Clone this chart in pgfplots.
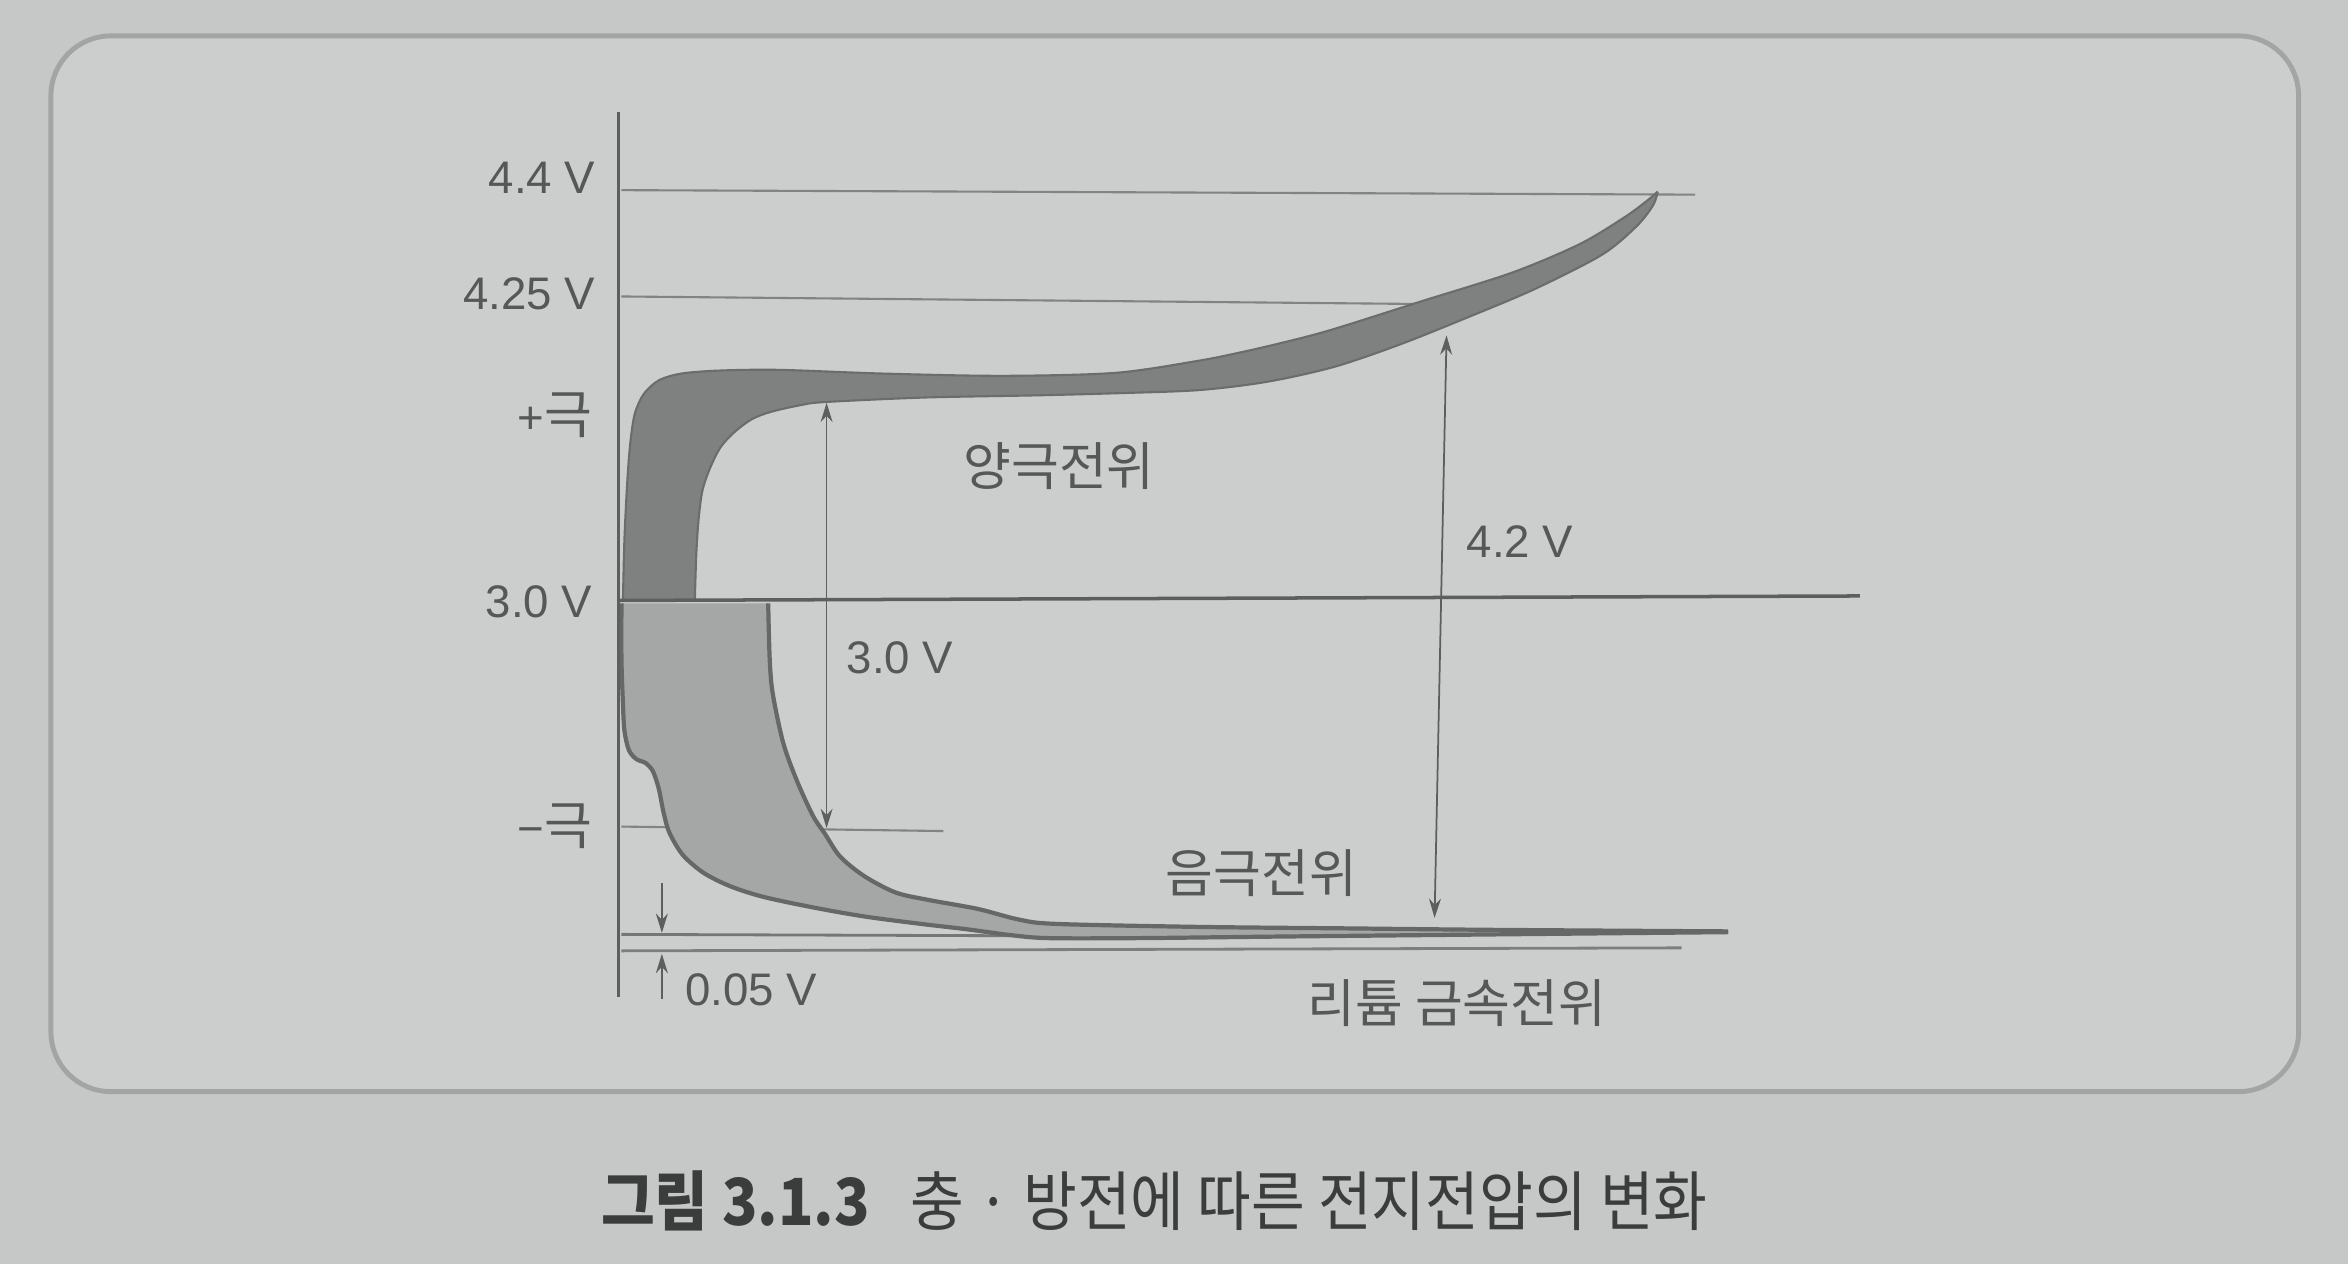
\documentclass[border=0pt]{standalone}
\usepackage{pgfplots}
\pgfplotsset{compat=1.18}
\usepackage{pgfplotstable}
\usepgfplotslibrary{fillbetween}
\usetikzlibrary{arrows.meta}
\usepackage{graphicx}
\usepackage{fontspec}
\setmainfont{Liberation Sans}
\newfontfamily\kr{Noto Sans CJK KR}

\definecolor{bgout}{HTML}{C5C8C7}
\definecolor{boxin}{HTML}{CBCECD}
\definecolor{boxline}{HTML}{A2A5A4}
\definecolor{bandP}{HTML}{7E8180}
\definecolor{bandPline}{HTML}{6A6D6C}
\definecolor{bandN}{HTML}{A4A7A6}
\definecolor{bandNline}{HTML}{656867}
\definecolor{thinl}{HTML}{818483}
\definecolor{darkl}{HTML}{5C5F5E}
\definecolor{txt}{HTML}{555857}
\definecolor{captxt}{HTML}{3A3D3C}

% positive electrode band (image coordinates, y downwards)
\pgfplotstableread{
x y
416 401
417 360
419 320
421 295
424 276
430 263
440 254
455 249.5
480 247.5
520 247
590 249.5
670 251
745 249
800 241
830 235
860 228
890 220
950 201
1010 182
1055 163
1085 145
1100 134
1107 128
}\posouter
\pgfplotstableread{
x y
464 401
465 370
466.5 347
469 328
474 313
481 299
490 289
502 280
515 275
535 270.5
551 268.5
617 265.5
694 264
750 262.5
801 260.5
846 255
891 245
935 230
980 212
1025 193
1070 170
1093 151
1104 137
1107 128
}\posinner
% negative electrode band
\pgfplotstableread{
x y
415 403
415 440
416 470
417 488
420 501
425 507
431 509.5
436 515
440 527
443 542
447 556
456 571
470 583
488 592
510 599
543 606
577 612
615 617
645 620.5
675 624.5
700 626.5
760 626.5
850 625.5
950 624.5
1050 623.5
1154 622.5
}\negouter
\pgfplotstableread{
x y
513 403
514 440
516 463
523 496
532 521
543 545
551 557
561 572
577 585
598 596
620 601
653 607
680 614
705 617
800 619
900 620
1000 621
1154 622
}\neginner
% closed outline of the negative band: outer edge, then inner edge backwards
\pgfplotstableread{
x y
415 403
415 440
416 470
417 488
420 501
425 507
431 509.5
436 515
440 527
443 542
447 556
456 571
470 583
488 592
510 599
543 606
577 612
615 617
645 620.5
675 624.5
700 626.5
760 626.5
850 625.5
950 624.5
1050 623.5
1154 622.5
1000 621
900 620
800 619
705 617
680 614
653 607
620 601
598 596
577 585
561 572
551 557
543 545
532 521
523 496
516 463
514 440
513 403
}\negband

\newcommand\lab{\fontsize{13pt}{14pt}\selectfont}
\newcommand\klab{\fontsize{14.8pt}{16pt}\selectfont\kr}
\tikzset{arr/.style={arrows={Stealth[length=5.5pt,width=3.4pt]-Stealth[length=5.5pt,width=3.4pt]}}}

\begin{document}
\begin{tikzpicture}
\begin{axis}[
  hide axis, scale only axis,
  width=23.52cm, height=12.66cm,
  xmin=0, xmax=1568, ymin=0, ymax=844,
  y dir=reverse, clip=false,
]
% background and frame
\addplot[draw=none, fill=bgout, forget plot] coordinates {(0,0) (1568,0) (1568,844) (0,844)} -- cycle;
\draw[draw=boxline, line width=1.4pt, fill=boxin, rounded corners=0.6cm] (axis cs:34,24) rectangle (axis cs:1535,729);

% reference lines
\addplot[thinl, line width=0.6pt] coordinates {(415,127) (1132,130)};
\addplot[thinl, line width=0.6pt] coordinates {(415,198) (945,203)};
\addplot[thinl, line width=0.6pt] coordinates {(415,552) (630,555)};
\addplot[darkl!85, line width=0.8pt] coordinates {(415,624) (700,625)};
\addplot[darkl!80, line width=0.8pt] coordinates {(415,635) (1123,633)};

% positive band
\addplot[name path=pA, draw=none, smooth] table {\posouter};
\addplot[name path=pB, draw=none, smooth] table {\posinner};
\addplot[fill=bandP, draw=none] fill between[of=pA and pB, on layer=main];
\addplot[bandPline, line width=0.6pt, smooth] table {\posouter};
\addplot[bandPline, line width=0.6pt, smooth] table {\posinner};

% negative band
\addplot[fill=bandN, draw=none, smooth] table {\negband} -- cycle;
\addplot[bandNline, line width=1.2pt, smooth] table {\negouter};
\addplot[bandNline, line width=1.2pt, smooth] table {\neginner};

% 3.0 V line and y axis
\addplot[darkl, line width=1.0pt] coordinates {(414,401) (1242,398)};
\addplot[darkl, line width=0.9pt] coordinates {(413,75) (413,666)};

% arrows
\addplot[darkl, line width=0.5pt, arr] coordinates {(552,269) (552,553)};
\addplot[darkl, line width=0.5pt, arr] coordinates {(966,224) (958,613)};
\addplot[darkl, line width=0.5pt, -{Stealth[length=5.5pt,width=3.4pt]}] coordinates {(442,590) (442,623)};
\addplot[darkl, line width=0.5pt, -{Stealth[length=5.5pt,width=3.4pt]}] coordinates {(442,667) (442,637)};

% labels
\node[anchor=east, inner sep=0, text=txt] at (axis cs:398,119) {\lab 4.4 V};
\node[anchor=east, inner sep=0, text=txt] at (axis cs:398,196) {\lab 4.25 V};
\node[anchor=east, inner sep=0, text=txt] at (axis cs:396,277) {\lab +{\klab 극}};
\node[anchor=east, inner sep=0, text=txt] at (axis cs:396,402) {\lab 3.0 V};
\node[anchor=east, inner sep=0, text=txt] at (axis cs:396,552) {\lab −{\klab 극}};
\node[anchor=west, inner sep=0, text=txt] at (axis cs:565,439) {\lab 3.0 V};
\node[anchor=west, inner sep=0, text=txt] at (axis cs:979,362) {\lab 4.2 V};
\node[anchor=west, inner sep=0, text=txt] at (axis cs:457,661) {\lab 0.05 V};
\node[anchor=west, inner sep=0, text=txt] at (axis cs:643,311) {\klab 양극전위};
\node[anchor=west, inner sep=0, text=txt] at (axis cs:778,583) {\klab 음극전위};
\node[anchor=west, inner sep=0, text=txt] at (axis cs:873,670) {\klab 리튬 금속전위};

% caption
\node[anchor=west, inner sep=0, text=captxt] at (axis cs:401,802) {\scalebox{0.9}[1]{\kr\fontsize{18.5pt}{19pt}\selectfont{\bfseries 그림 3.1.3}\hspace{0.7em}충 · 방전에 따른 전지전압의 변화}};
\end{axis}
\end{tikzpicture}
\end{document}
